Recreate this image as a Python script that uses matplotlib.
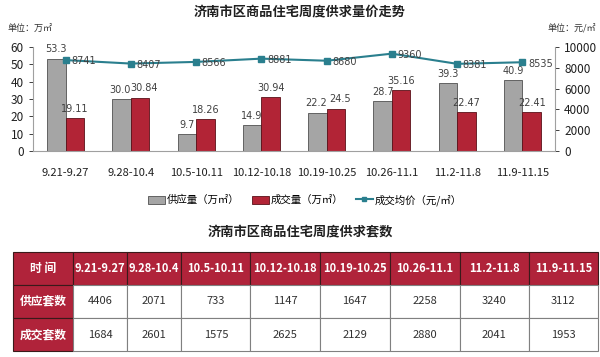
import matplotlib
matplotlib.use("Agg")
import matplotlib.pyplot as plt
from matplotlib.patches import Patch
from matplotlib.lines import Line2D

plt.rcParams['font.family'] = ['Noto Sans CJK SC', 'DejaVu Sans']

weeks = ["9.21-9.27", "9.28-10.4", "10.5-10.11", "10.12-10.18",
         "10.19-10.25", "10.26-11.1", "11.2-11.8", "11.9-11.15"]
supply_area = [53.3, 30.0, 9.7, 14.9, 22.2, 28.7, 39.3, 40.9]
supply_labels = ["53.3", "30.0", "9.7", "14.9", "22.2", "28.7", "39.3", "40.9"]
deal_area = [19.11, 30.84, 18.26, 30.94, 24.5, 35.16, 22.47, 22.41]
deal_labels = ["19.11", "30.84", "18.26", "30.94", "24.5", "35.16", "22.47", "22.41"]
avg_price = [8741, 8407, 8566, 8881, 8680, 9360, 8381, 8535]
supply_units = [4406, 2071, 733, 1147, 1647, 2258, 3240, 3112]
deal_units = [1684, 2601, 1575, 2625, 2129, 2880, 2041, 1953]

W, H = 600, 357
fig = plt.figure(figsize=(W / 100, H / 100), dpi=100)

GRAY = "#a5a5a5"
RED = "#b22436"
TEAL = "#2a7f8e"
HDR = "#b0233a"

def px_axes(x0, y0, x1, y1):
    return fig.add_axes([x0 / W, 1 - y1 / H, (x1 - x0) / W, (y1 - y0) / H])

ax = px_axes(33, 47, 555, 151)
x = list(range(len(weeks)))
bw = 0.285
ax.bar([i - bw / 2 for i in x], supply_area, bw, color=GRAY, edgecolor="#505050", linewidth=0.6, zorder=2)
ax.bar([i + bw / 2 for i in x], deal_area, bw, color=RED, edgecolor="#5a1018", linewidth=0.6, zorder=2)
for i in x:
    close = abs(supply_area[i] - deal_area[i]) < 4
    ax.annotate(supply_labels[i], (i - bw / 2, supply_area[i]), xytext=(-1 if close else 0, 3),
                textcoords="offset points", ha="center", va="bottom", fontsize=7,
                color="#404040", family="DejaVu Sans")
    ax.annotate(deal_labels[i], (i + bw / 2, deal_area[i]), xytext=(3 if close else 0, 3),
                textcoords="offset points", ha="center", va="bottom", fontsize=7,
                color="#404040", family="DejaVu Sans")
ax.set_xlim(-0.5, len(weeks) - 0.5)
ax.set_ylim(0, 60)
ax.set_yticks([0, 10, 20, 30, 40, 50, 60])
ax.set_xticks(x)
ax.set_xticklabels(weeks, fontsize=8, color="#202020")
ax.tick_params(axis="x", length=0, pad=12)
ax.tick_params(axis="y", labelsize=8.5, length=3, colors="#202020", direction="out", width=0.6)
for s in ["top", "right"]:
    ax.spines[s].set_visible(False)
ax.spines["left"].set_color("#a0a0a0")
ax.spines["bottom"].set_color("#a0a0a0")
ax.patch.set_alpha(0)

ax2 = ax.twinx()
ax2.plot(x, avg_price, color=TEAL, marker="s", markersize=4.5, linewidth=1.5, zorder=3)
for i in x:
    ax2.annotate(str(avg_price[i]), (i, avg_price[i]), xytext=(4, -1), textcoords="offset points",
                 ha="left", va="center", fontsize=7, color="#404040", family="DejaVu Sans")
ax2.set_ylim(0, 10000)
ax2.set_yticks([0, 2000, 4000, 6000, 8000, 10000])
ax2.tick_params(axis="y", labelsize=8.5, length=3, colors="#202020", direction="out", width=0.6)
for s in ["top", "left", "bottom"]:
    ax2.spines[s].set_visible(False)
ax2.spines["right"].set_color("#a0a0a0")

fig.text(300 / W, 1 - 12 / H, "济南市区商品住宅周度供求量价走势", ha="center", va="center",
         fontsize=9.5, fontweight="bold", color="#202020")
fig.text(7 / W, 1 - 29 / H, "单位：万㎡", ha="left", va="center", fontsize=6.5, color="#303030")
fig.text(596 / W, 1 - 29 / H, "单位：元/㎡", ha="right", va="center", fontsize=6.5, color="#303030")

handles = [Patch(facecolor=GRAY, edgecolor="#505050", linewidth=0.6),
           Patch(facecolor=RED, edgecolor="#5a1018", linewidth=0.6),
           Line2D([0], [0], color=TEAL, marker="s", markersize=3, linewidth=1.5)]
fig.legend(handles, ["供应量（万㎡）", "成交量（万㎡）", "成交均价（元/㎡）"], loc="center",
           bbox_to_anchor=(305 / W, 1 - 200 / H), ncol=3, frameon=False, fontsize=7.5,
           handlelength=1.6, handleheight=0.8, handletextpad=0.2, columnspacing=1.2)

fig.text(300 / W, 1 - 232 / H, "济南市区商品住宅周度供求套数", ha="center", va="center",
         fontsize=9.5, fontweight="bold", color="#202020")

# table
tax = px_axes(13, 252, 598, 351)
tax.axis("off")
col_px = [60, 54, 54, 69, 69, 70, 70, 69, 69]
tot = sum(col_px)
cell_text = [["时 间"] + weeks,
             ["供应套数"] + [str(v) for v in supply_units],
             ["成交套数"] + [str(v) for v in deal_units]]
tbl = tax.table(cellText=cell_text, colWidths=[c / tot for c in col_px], bbox=[0, 0, 1, 1],
                cellLoc="center")
tbl.auto_set_font_size(False)
for (r, c), cell in tbl.get_celld().items():
    cell.set_linewidth(0.8)
    cell.PAD = 0.02
    txt = cell.get_text()
    if r == 0 or c == 0:
        cell.set_facecolor(HDR)
        cell.set_edgecolor("#3a1a1a")
        txt.set_color("white")
        txt.set_fontweight("bold")
        txt.set_fontsize(8 if (r == 0 and c > 0) else 8.5)
    else:
        cell.set_facecolor("white")
        cell.set_edgecolor("#808080")
        txt.set_color("#303030")
        txt.set_fontsize(8)

fig.savefig("out.png", dpi=100)
